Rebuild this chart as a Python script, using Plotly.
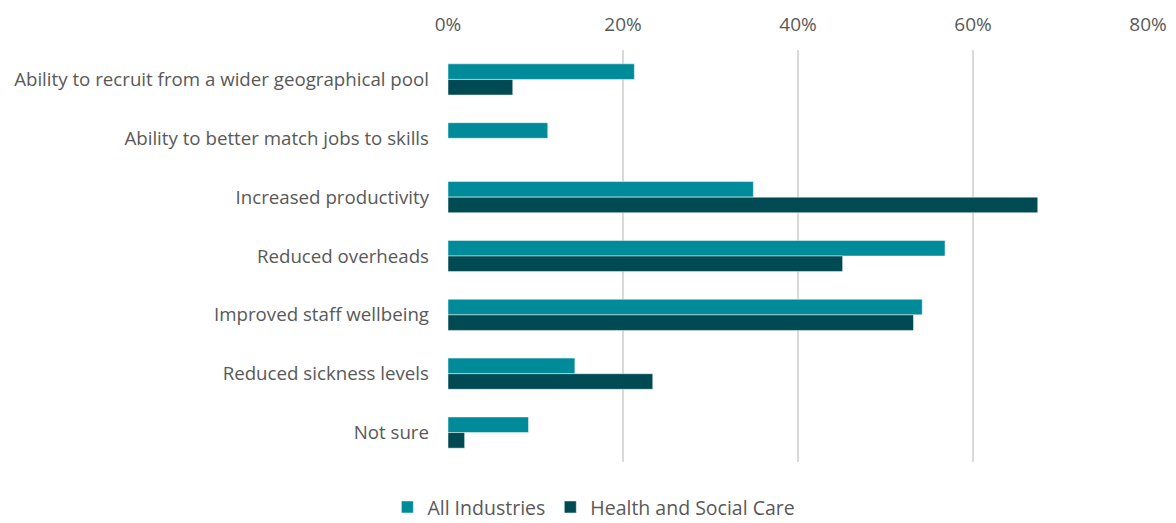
import plotly.graph_objects as go

categories = [
    "Ability to recruit from a wider geographical pool",
    "Ability to better match jobs to skills",
    "Increased productivity",
    "Reduced overheads",
    "Improved staff wellbeing",
    "Reduced sickness levels",
    "Not sure",
]
all_industries = [21.3, 11.4, 34.9, 56.8, 54.2, 14.5, 9.2]
health_social_care = [7.4, 0, 67.4, 45.1, 53.2, 23.4, 1.9]
tick_vals = [0, 20, 40, 60, 80]
tick_text = ["0%", "20%", "40%", "60%", "80%"]

fig = go.Figure()
fig.add_trace(go.Bar(y=categories, x=all_industries, orientation="h", name="All Industries",
                     marker=dict(color="#008B9A", line=dict(color="rgba(255,255,255,0.6)", width=0.8))))
fig.add_trace(go.Bar(y=categories, x=health_social_care, orientation="h", name="Health and Social Care",
                     marker=dict(color="#004A54", line=dict(color="rgba(255,255,255,0.6)", width=0.8))))

fig.update_layout(
    width=1176, height=523,
    margin=dict(l=448, r=28, t=50, b=61, autoexpand=False),
    barmode="group", bargap=0.47, bargroupgap=0,
    plot_bgcolor="white", paper_bgcolor="white",
    font=dict(family="Open Sans, sans-serif", color="#595959", size=17),
    showlegend=True,
    legend=dict(orientation="h", xref="container", x=0.505, xanchor="center",
                yref="container", y=0.03, yanchor="middle",
                font=dict(size=19.5, color="#595959"), itemwidth=30, tracegroupgap=0),
    xaxis=dict(side="top", range=[0, 80], tickvals=tick_vals, ticktext=tick_text,
               showgrid=True, gridcolor="#D9D9D9", gridwidth=2, zeroline=False,
               showline=False, ticks="", tickfont=dict(size=19, color="#595959"),
               ticklabelstandoff=14, automargin=False),
    yaxis=dict(autorange="reversed", showgrid=False, zeroline=False, showline=False,
               ticks="", ticklabelstandoff=18, tickfont=dict(size=18.7, color="#595959"),
               automargin=False),
)

fig.write_html("out.html")
